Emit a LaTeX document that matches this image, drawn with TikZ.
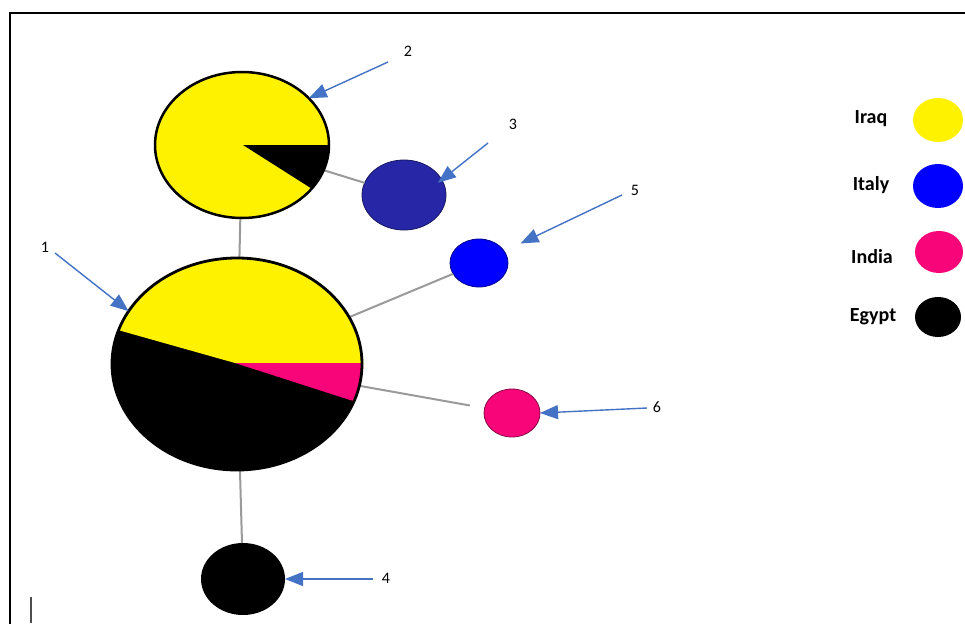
\documentclass[tikz,border=0pt]{standalone}
\usepackage{fontspec}
\setmainfont{Carlito}
\usetikzlibrary{shapes.geometric,arrows.meta}
\definecolor{iraqY}{HTML}{FFF200}
\definecolor{italyB}{HTML}{0000FF}
\definecolor{darkB}{HTML}{2626A6}
\definecolor{indiaP}{HTML}{F8057A}
\definecolor{arrB}{HTML}{4472C4}
\definecolor{edgeG}{HTML}{9A9A9A}
\tikzset{
  hap/.style={ellipse, inner sep=0pt, outer sep=0pt},
  edgeline/.style={draw=edgeG, line width=2pt},
  ptr/.style={draw=arrB, line width=1.4pt, -{Triangle[length=18pt,width=14pt]}},
  numlbl/.style={font=\fontsize{16}{18}\selectfont, inner sep=1pt},
  legtxt/.style={font=\bfseries\fontsize{20}{22}\selectfont, inner sep=0pt},
  legdot/.style={ellipse, inner sep=0pt, minimum width=50pt, minimum height=44pt}
}
\begin{document}
\begin{tikzpicture}[x=1pt,y=-1pt]
\useasboundingbox (0,0) rectangle (965,623);
\fill[white] (0,0) rectangle (965,623);
% frame and cursor
\draw[line width=2pt, line cap=rect] (10,623) -- (10,13) -- (965,13);
\draw[line width=1.3pt, black!70] (31,597) -- (31,623);

% haplotype nodes (shapes)
\node[hap, minimum width=174pt, minimum height=146pt] (n2) at (242,145) {};
\node[hap, minimum width=250pt, minimum height=212pt] (n1) at (237,364) {};
\node[hap, fill=darkB, draw=darkB!60!black, line width=0.8pt, minimum width=84pt, minimum height=70pt] (n3) at (404,195) {};
\node[hap, fill=italyB, draw=italyB!55!black, line width=0.8pt, minimum width=58pt, minimum height=48pt] (n5) at (479,263) {};
\node[hap, fill=indiaP, draw=indiaP!55!black, line width=0.8pt, minimum width=56pt, minimum height=48pt] (n6) at (512,413) {};
\node[hap, fill=black, minimum width=84pt, minimum height=72pt] (n4) at (243,579) {};

% connectors
\draw[edgeline] (n2) -- (n3);
\draw[edgeline] (n2) -- (n1);
\draw[edgeline] (n1) -- (n5);
\draw[edgeline, shorten >=15pt] (n1) -- (n6);
\draw[edgeline] (n1) -- (n4);

% pie 2
\begin{scope}
  \clip (242,145) ellipse [x radius=87, y radius=73];
  \fill[iraqY] (150,60) rectangle (340,230);
  \fill[black] (243,145) -- (450,145) -- (446,274) -- cycle;
\end{scope}
\draw[line width=2.5pt] (242,145) ellipse [x radius=87, y radius=73];

% pie 1
\begin{scope}
  \clip (237,364) ellipse [x radius=125, y radius=106];
  \fill[black] (100,250) rectangle (380,480);
  \fill[iraqY] (235,363) -- (-95,270) -- (-95,200) -- (400,200) -- (400,363) -- cycle;
  \fill[indiaP] (235,363) -- (400,363) -- (580,474) -- cycle;
\end{scope}
\draw[line width=2.8pt] (237,364) ellipse [x radius=125, y radius=106];

% number labels and pointers
\coordinate (s1) at (55,253);
\coordinate (s2) at (388,62);
\coordinate (s3) at (488,143);
\coordinate (s4) at (373,579);
\coordinate (s5) at (622,195);
\coordinate (s6) at (647,408);
\node[numlbl] (l1) at (45,247) {1};
\node[numlbl] (l2) at (408,51) {2};
\node[numlbl] (l3) at (513,124) {3};
\node[numlbl] (l4) at (386,578) {4};
\node[numlbl] (l5) at (635,190) {5};
\node[numlbl] (l6) at (657,407) {6};
\draw[ptr] (s1) -- (n1.154);
\draw[ptr] (s2) -- (n2.35);
\draw[ptr, shorten >=-5pt] (s3) -- (n3.22);
\draw[ptr] (s4) -- (n4.east);
\draw[ptr, shorten >=18pt] (s5) -- (n5.25);
\draw[ptr] (s6) -- (n6.east);

% legend
\node[legtxt] (t1) at (871,119) {Iraq};
\node[legtxt] (t2) at (871,185) {Italy};
\node[legtxt] (t3) at (872,257) {India};
\node[legtxt] (t4) at (873,317) {Egypt};
\node[legdot, fill=iraqY] (d1) at (938,120) {};
\node[legdot, fill=italyB] (d2) at (938,186) {};
\node[legdot, fill=indiaP, minimum width=48pt, minimum height=42pt] (d3) at (939,252) {};
\node[legdot, fill=black, minimum width=46pt, minimum height=40pt] (d4) at (938,317) {};
\end{tikzpicture}
\end{document}
